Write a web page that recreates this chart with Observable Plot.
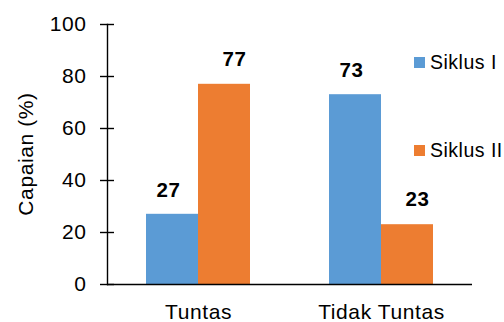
<!DOCTYPE html>
<html>
<head>
<meta charset="utf-8">
<script src="https://cdn.jsdelivr.net/npm/d3@7"></script>
<script src="https://cdn.jsdelivr.net/npm/@observablehq/plot@0.6"></script>
<style>
  html, body { margin: 0; padding: 0; background: #fff; }
  #wrap { position: relative; width: 504px; height: 322px; font-family: "Liberation Sans", Arial, sans-serif; }
  .leg { position: absolute; left: 414px; display: flex; align-items: center; font-size: 19.5px; letter-spacing: 0.5px; color: #000; white-space: nowrap; }
  .sw { width: 11px; height: 11px; margin-right: 5px; }
  #ylab { position: absolute; left: 25px; top: 154px; transform: translate(-50%, -50%) rotate(-90deg); font-size: 21px; letter-spacing: 0.6px; white-space: nowrap; color: #000; line-height: 1; }
</style>
</head>
<body>
<div id="wrap"></div>
<script>
const categories = ["Tuntas", "Tidak Tuntas"];
const seriesNames = ["Siklus I", "Siklus II"];
const siklus1 = [27, 73];
const siklus2 = [77, 23];
const yTicks = [0, 20, 40, 60, 80, 100];
const yLabel = "Capaian (%)";
const colors = ["#5B9BD5", "#ED7D31"];

const rows1 = categories.map((c, i) => ({category: c, series: seriesNames[0], value: siklus1[i]}));
const rows2 = categories.map((c, i) => ({category: c, series: seriesNames[1], value: siklus2[i]}));

const font = "Liberation Sans, Arial, sans-serif";

const chart = Plot.plot({
  width: 504,
  height: 322,
  marginLeft: 107,
  marginRight: 32,
  marginTop: 24,
  marginBottom: 38,
  style: {fontFamily: font, fontSize: "21px", color: "#000", background: "#fff", letterSpacing: "0.6px"},
  x: {domain: categories, paddingInner: 0.432, paddingOuter: 0.213, label: null},
  y: {domain: [0, 100], label: null},
  marks: [
    Plot.barY(rows1, {x: "category", y: "value", fill: colors[0], insetRight: 52, insetLeft: 0}),
    Plot.barY(rows2, {x: "category", y: "value", fill: colors[1], insetLeft: 52, insetRight: 0}),
    Plot.text(rows1, {x: "category", y: "value", text: d => String(d.value), dx: -30, dy: -24, fontWeight: "bold", fontSize: 20.5, fill: "#000"}),
    Plot.text(rows2, {x: "category", y: "value", text: d => String(d.value), dx: 36, dy: -25, fontWeight: "bold", fontSize: 20.5, fill: "#000"}),
    Plot.frame({anchor: "left", stroke: "#000", strokeWidth: 1.4}),
    Plot.ruleY([0], {stroke: "#000", strokeWidth: 1.4}),
    Plot.axisY({ticks: yTicks, tickSize: 14, dx: 7, tickPadding: 14, fontSize: 21, stroke: "#000", strokeWidth: 1.4, label: null}),
    Plot.axisX({tickSize: 0, tickPadding: 20, fontSize: 21, label: null})
  ]
});

const wrap = document.getElementById("wrap");
wrap.appendChild(chart);

const yl = document.createElement("div");
yl.id = "ylab";
yl.textContent = yLabel;
wrap.appendChild(yl);

const legendTops = [62, 150];
seriesNames.forEach((name, i) => {
  const item = document.createElement("div");
  item.className = "leg";
  item.style.top = (legendTops[i] - 12) + "px";
  item.style.height = "24px";
  const sw = document.createElement("div");
  sw.className = "sw";
  sw.style.background = colors[i];
  const t = document.createElement("span");
  t.textContent = name;
  item.appendChild(sw);
  item.appendChild(t);
  wrap.appendChild(item);
});
</script>
</body>
</html>
